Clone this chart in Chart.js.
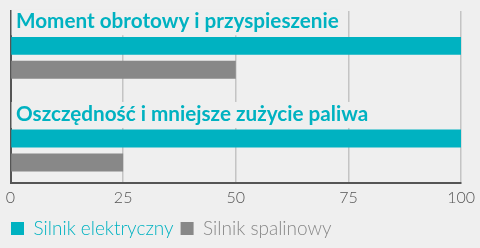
<!DOCTYPE html>
<html>
<head>
<meta charset="utf-8">
<script src="https://cdn.jsdelivr.net/npm/chart.js@4/dist/chart.umd.min.js"></script>
<style>
html,body{margin:0;padding:0;background:#efefef;}
#wrap{width:480px;height:248px;position:relative;}
</style>
</head>
<body>
<div id="wrap"><canvas id="c" width="480" height="248"></canvas></div>
<script>
const categories = ['Moment obrotowy i przyspieszenie', 'Oszczędność i mniejsze zużycie paliwa'];
const seriesNames = ['Silnik elektryczny', 'Silnik spalinowy'];
const electric = [100, 100];
const combustion = [50, 25];
const xTicks = [0, 25, 50, 75, 100];

const TEAL = '#00b2c1';
const GRAY = '#888888';
const BG = '#efefef';

const toPoints = arr => arr.map((v, i) => ({ x: v, y: i }));

const categoryLabels = {
  id: 'categoryLabels',
  afterDatasetsDraw(chart) {
    const ctx = chart.ctx;
    const ys = chart.scales.y;
    const area = chart.chartArea;
    ctx.save();
    ctx.font = 'bold 20.7px Lato';
    ctx.textBaseline = 'alphabetic';
    ctx.textAlign = 'left';
    categories.forEach((label, i) => {
      const base = ys.getPixelForValue(i) - 29.5;
      const x = area.left + 5.5;
      const w = ctx.measureText(label).width;
      ctx.fillStyle = BG;
      ctx.fillRect(area.left + 1, base - 19, w + 6, 26);
      ctx.fillStyle = TEAL;
      ctx.fillText(label, x, base);
    });
    ctx.restore();
  }
};

new Chart(document.getElementById('c'), {
  type: 'bar',
  data: {
    datasets: [
      { label: seriesNames[0], data: toPoints(electric), backgroundColor: TEAL, borderWidth: 0 },
      { label: seriesNames[1], data: toPoints(combustion), backgroundColor: GRAY, borderWidth: 0 }
    ]
  },
  options: {
    indexAxis: 'y',
    responsive: false,
    animation: false,
    categoryPercentage: 0.516,
    barPercentage: 0.75,
    layout: { padding: { left: 4, right: 17, top: 11, bottom: 0 } },
    plugins: {
      tooltip: { enabled: false },
      legend: {
        position: 'bottom',
        align: 'start',
        labels: {
          boxWidth: 13,
          boxHeight: 13,
          padding: 7,
          font: { family: 'Lato', size: 19, weight: '300' },
          generateLabels(chart) {
            return chart.data.datasets.map((ds, i) => ({
              text: ds.label,
              fillStyle: ds.backgroundColor,
              strokeStyle: ds.backgroundColor,
              lineWidth: 0,
              fontColor: ds.backgroundColor,
              datasetIndex: i,
              hidden: false
            }));
          }
        }
      }
    },
    scales: {
      x: {
        type: 'linear',
        min: 0,
        max: 100,
        afterBuildTicks(scale) { scale.ticks = xTicks.map(v => ({ value: v })); },
        ticks: { color: '#555555', font: { family: 'Lato', size: 16, weight: '300' }, padding: 5, maxRotation: 0 },
        grid: { color: '#c4c4c4', lineWidth: 1.5, drawTicks: false },
        border: { display: true, color: '#555555', width: 2 }
      },
      y: {
        type: 'linear',
        reverse: true,
        offset: false,
        min: -0.505,
        max: 1.349,
        ticks: { display: false, stepSize: 1, includeBounds: false },
        afterFit(scale) { scale.width = 6.5; },
        grid: { display: false, drawTicks: false, offset: false },
        border: { display: true, color: '#555555', width: 2 }
      }
    }
  },
  plugins: [categoryLabels]
});
</script>
</body>
</html>
